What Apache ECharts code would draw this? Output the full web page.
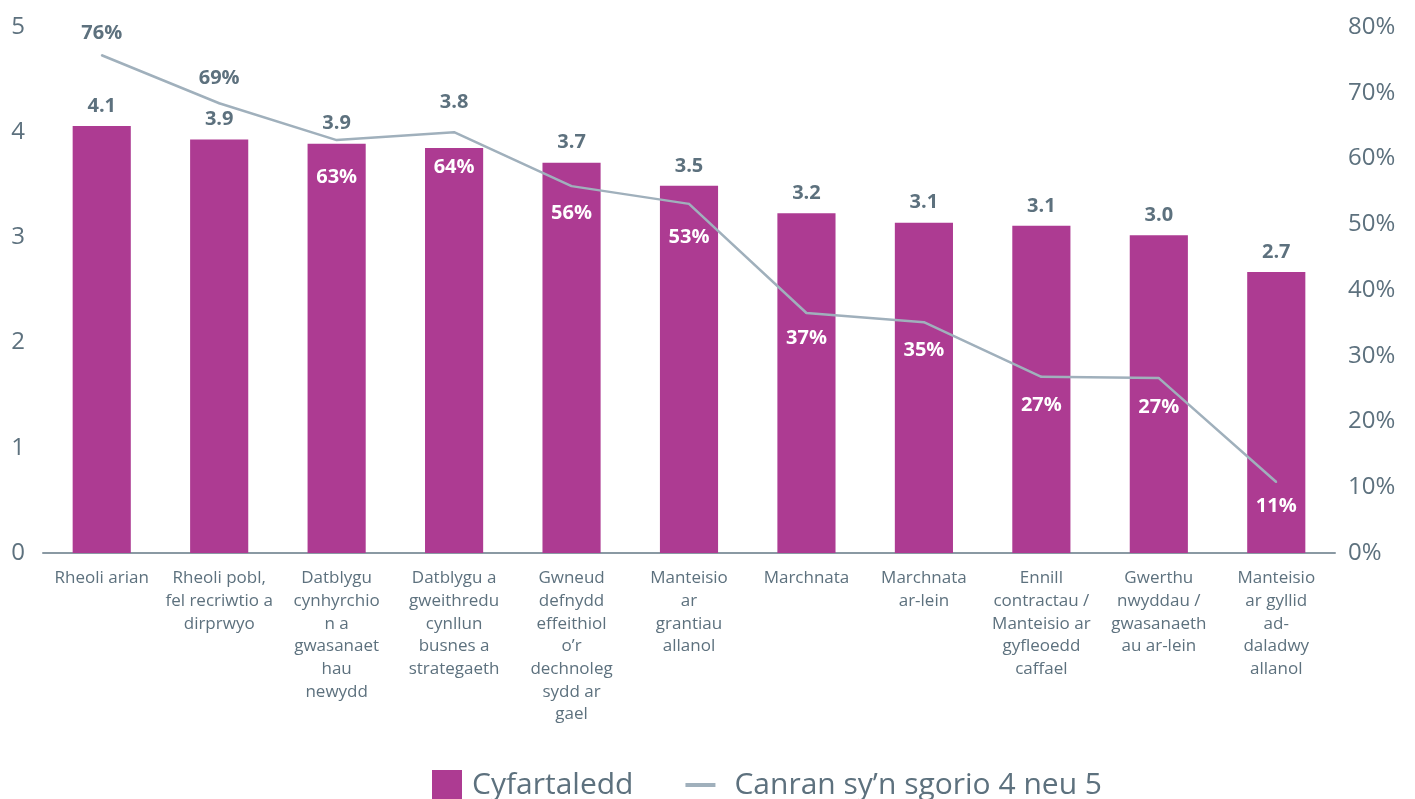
<!DOCTYPE html>
<html>
<head>
<meta charset="utf-8">
<script src="https://cdn.jsdelivr.net/npm/echarts@6/dist/echarts.min.js"></script>
<style>
  html, body { margin: 0; padding: 0; background: #fff; }
  #chart { width: 1415px; height: 799px; }
</style>
</head>
<body>
<div id="chart"></div>
<script>
// categories (line breaks as in the original)
const categories = [
  'Rheoli arian',
  'Rheoli pobl,\nfel recriwtio a\ndirprwyo',
  'Datblygu\ncynhyrchio\nn a\ngwasanaet\nhau\nnewydd',
  'Datblygu a\ngweithredu\ncynllun\nbusnes a\nstrategaeth',
  'Gwneud\ndefnydd\neffeithiol\no\u2019r\ndechnoleg\nsydd ar\ngael',
  'Manteisio\nar\ngrantiau\nallanol',
  'Marchnata',
  'Marchnata\nar-lein',
  'Ennill\ncontractau /\nManteisio ar\ngyfleoedd\ncaffael',
  'Gwerthu\nnwyddau /\ngwasanaeth\nau ar-lein',
  'Manteisio\nar gyllid\nad-\ndaladwy\nallanol'
]
const averages = [4.06, 3.93, 3.89, 3.85, 3.71, 3.49, 3.23, 3.14, 3.11, 3.02, 2.67]
const averageLabels = ['4.1', '3.9', '3.9', '3.8', '3.7', '3.5', '3.2', '3.1', '3.1', '3.0', '2.7']
const shares = [75.7, 68.4, 62.8, 64.0, 55.8, 53.1, 36.5, 35.1, 26.8, 26.6, 10.8]
const shareLabels = ['76%', '69%', '63%', '64%', '56%', '53%', '37%', '35%', '27%', '27%', '11%']

const txt = '#5d717e'
const barColor = '#ad3b92'
const lineColor = '#a0b0bc'
const font = '"Open Sans", "Noto Sans", sans-serif'

const chart = echarts.init(document.getElementById('chart'))

const barData = averages.map((v, i) => {
  const d = { value: v }
  // label pushed up where the line crosses it
  if (i === 3) d.label = { offset: [0, -26] }
  return d
})

// distance of each % label from the line point (first two sit above it)
const shareDist = [11, 14, 26, 24, 16, 22, 14, 17, 18, 18, 13]
const lineData = shares.map((v, i) => {
  const d = { value: v }
  if (i < 2) {
    d.label = { position: 'top', color: txt, distance: shareDist[i] }
  } else {
    d.label = { distance: shareDist[i] }
  }
  return d
})

chart.setOption({
  backgroundColor: '#fff',
  animation: false,
  textStyle: { fontFamily: font },
  grid: { left: 43, right: 80, top: 27, bottom: 246 },
  legend: {
    bottom: -6,
    left: 427,
    itemGap: 52,
    itemWidth: 30,
    itemHeight: 30,
    textStyle: { fontSize: 30, color: txt, fontFamily: font, padding: [0, 0, 0, 5] },
    data: [
      { name: 'Cyfartaledd', icon: 'rect' },
      {
        name: 'Canran sy\u2019n sgorio 4 neu 5',
        icon: 'path://M0,13 L30,13 L30,17 L0,17 Z',
        itemStyle: { color: lineColor, opacity: 1 },
        textStyle: { padding: [0, 0, 0, 14] }
      }
    ]
  },
  xAxis: {
    type: 'category',
    data: categories,
    axisLine: { lineStyle: { color: '#8a99a3', width: 2 } },
    axisTick: { show: false },
    axisLabel: {
      interval: 0,
      color: txt,
      fontSize: 17,
      lineHeight: 22.7,
      margin: 14,
      fontFamily: font
    }
  },
  yAxis: [
    {
      type: 'value',
      min: 0,
      max: 5,
      interval: 1,
      axisLine: { show: false },
      axisTick: { show: false },
      splitLine: { show: false },
      axisLabel: { color: txt, fontSize: 24, margin: 18, fontFamily: font }
    },
    {
      type: 'value',
      min: 0,
      max: 80,
      interval: 10,
      axisLine: { show: false },
      axisTick: { show: false },
      splitLine: { show: false },
      axisLabel: { color: txt, fontSize: 24, margin: 13, formatter: '{value}%', fontFamily: font }
    }
  ],
  series: [
    {
      name: 'Cyfartaledd',
      type: 'bar',
      data: barData,
      barWidth: '49.5%',
      itemStyle: { color: barColor },
      label: {
        show: true,
        position: 'top',
        distance: 10,
        color: txt,
        fontSize: 20,
        fontWeight: 'bold',
        fontFamily: font,
        formatter: (p) => averageLabels[p.dataIndex]
      },
      z: 2
    },
    {
      name: 'Canran sy\u2019n sgorio 4 neu 5',
      type: 'line',
      yAxisIndex: 1,
      data: lineData,
      symbol: 'circle',
      symbolSize: 2,
      showSymbol: true,
      lineStyle: { color: lineColor, width: 2.5 },
      itemStyle: { color: lineColor },
      label: {
        show: true,
        position: 'bottom',
        color: '#fff',
        fontSize: 20,
        fontWeight: 'bold',
        fontFamily: font,
        formatter: (p) => shareLabels[p.dataIndex]
      },
      labelLayout: { hideOverlap: false },
      z: 3
    }
  ]
})
</script>
</body>
</html>
